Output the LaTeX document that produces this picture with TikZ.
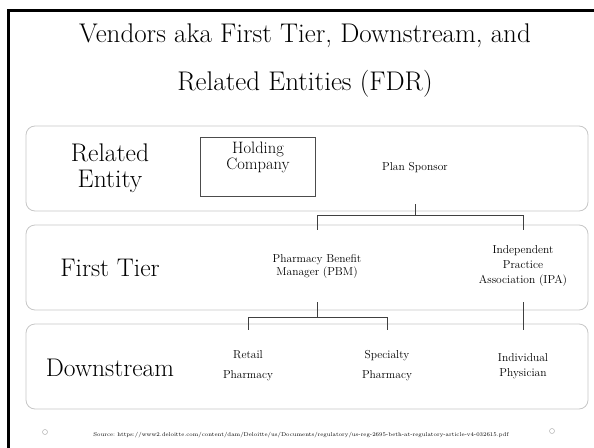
\documentclass[tikz,border=0pt]{standalone}
\usetikzlibrary{positioning}

\begin{document}
\begin{tikzpicture}[
    x=1pt, y=-1pt,
    layer/.style={draw=black!22, line width=0.8pt, rounded corners=9pt,
                  minimum width=562pt, minimum height=85pt},
    tiername/.style={font=\fontsize{25.5}{26}\selectfont, align=center},
    item/.style={font=\fontsize{11.5}{15}\selectfont, align=center,
                 minimum height=72pt, inner sep=0pt},
    tree/.style={draw=black!75, line width=0.8pt},
  ]
  \useasboundingbox (0,0) rectangle (594,447);

  % Slide frame and title
  \draw[line width=3pt] (8.5,452) -- (8.5,10.5) -- (600,10.5);
  \node[font=\fontsize{27}{48}\selectfont, align=center] (title) at (305,61)
    {Vendors aka First Tier, Downstream, and\\Related Entities (FDR)};

  % Layers
  \node[layer] (relrow) at (307,168.5) {};
  \node[layer] (tierrow) at (307,267.5) {};
  \node[layer] (downrow) at (307,366.5) {};

  % Layer names
  \node[tiername] (relname) at (110,168) {Related\\Entity};
  \node[tiername] (firstname) at (110,268) {First Tier};
  \node[tiername] (downname) at (110,368) {Downstream};

  % Related entity
  \node[draw=black!70, line width=0.6pt, minimum width=115pt, minimum height=59pt] (holding) at (258,166.5) {};
  \node[font=\fontsize{16.5}{16}\selectfont, align=center, below=1.5pt of holding.north] (holdtxt) {Holding\\Company};
  \node[item] (plan) at (415,168) {Plan Sponsor};

  % First tier
  \node[item, font=\fontsize{11.5}{13}\selectfont] (pbm) at (317,266) {Pharmacy Benefit\\Manager (PBM)};
  \node[item] (ipa) at (523,266) {Independent\\Practice\\Association (IPA)};

  % Downstream
  \node[item, font=\fontsize{11.5}{20}\selectfont] (retail) at (248,366) {Retail\\Pharmacy};
  \node[item, font=\fontsize{11.5}{20}\selectfont] (spec) at (387,366) {Specialty\\Pharmacy};
  \node[item] (indiv) at (523,366) {Individual\\Physician};

  % Connectors
  \draw[tree] (plan.south) -- ++(0,11) -| (pbm.north);
  \draw[tree] (plan.south) -- ++(0,11) -| (ipa.north);
  \draw[tree] (pbm.south) -- ++(0,15) -| (retail.north);
  \draw[tree] (pbm.south) -- ++(0,15) -| (spec.north);
  \draw[tree] (ipa.south) -- (indiv.north);

  % Footer
  \node[font=\fontsize{5.6}{7}\selectfont] (src) at (301,435)
    {Source:~https://www2.deloitte.com/content/dam/Deloitte/us/Documents/regulatory/us-reg-2695-beth-at-regulatory-article-v4-032615.pdf};
  \draw[black!30, line width=0.5pt] (45,432) circle (2.5pt);
  \draw[black!30, line width=0.5pt] (552,431) circle (2.5pt);
\end{tikzpicture}
\end{document}
